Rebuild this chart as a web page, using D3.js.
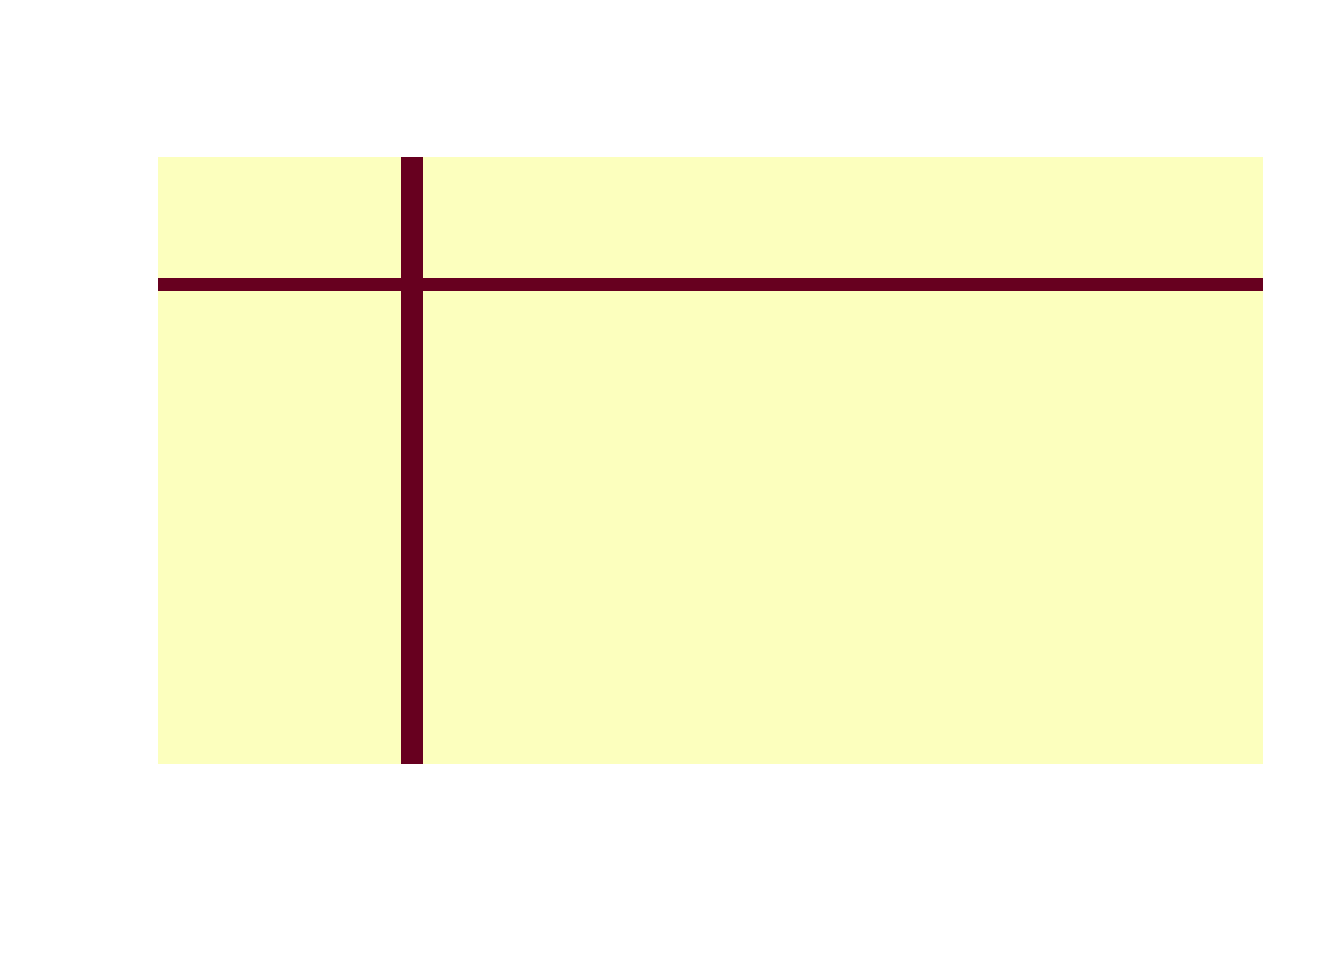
<!DOCTYPE html>
<html>
<head>
<meta charset="utf-8">
<script src="https://cdn.jsdelivr.net/npm/d3@7"></script>
<style>
html,body{margin:0;padding:0;background:#fff;}
svg{display:block;}
</style>
</head>
<body>
<svg id="chart" width="1344" height="960"></svg>
<script>
// Column categories (x) and row categories (y, bottom to top)
const xCategories = d3.range(1, 51).map(String);
const yCategories = d3.range(1, 51).map(String);
// Per-column and per-row levels (1 = highlighted)
const columnLevels = [0,0,0,0,0,0,0,0,0,0,0,1,0,0,0,0,0,0,0,0,0,0,0,0,0,0,0,0,0,0,0,0,0,0,0,0,0,0,0,0,0,0,0,0,0,0,0,0,0,0];
const rowLevels    = [0,0,0,0,0,0,0,0,0,0,0,0,0,0,0,0,0,0,0,0,0,0,0,0,0,0,0,0,0,0,0,0,0,0,0,0,0,0,0,1,0,0,0,0,0,0,0,0,0,0];
const palette = ["#FCFFBE", "#67001F"];

const svg = d3.select("#chart");
const W = 1344, H = 960;
const margin = {left:158, right:W-1263, top:157, bottom:H-764};

const x = d3.scaleBand().domain(xCategories).range([margin.left, W - margin.right]).padding(0);
const y = d3.scaleBand().domain(yCategories).range([H - margin.bottom, margin.top]).padding(0);
const color = d3.scaleOrdinal().domain([0,1]).range(palette);

const cells = [];
yCategories.forEach((yc, j) => {
  xCategories.forEach((xc, i) => {
    cells.push({x: xc, y: yc, i, j, v: Math.max(columnLevels[i], rowLevels[j])});
  });
});

const lastX = xCategories.length - 1;
svg.append("g").attr("shape-rendering","crispEdges")
  .selectAll("rect").data(cells).join("rect")
  .attr("x", d => x(d.x))
  .attr("y", d => y(d.y) - (d.j === yCategories.length - 1 ? 0 : 0.4))
  .attr("width", d => x.bandwidth() + (d.i === lastX ? 0 : 0.4))
  .attr("height", d => y.bandwidth() + (d.j === yCategories.length - 1 ? 0 : 0.4))
  .attr("fill", d => color(d.v));
</script>
</body>
</html>
